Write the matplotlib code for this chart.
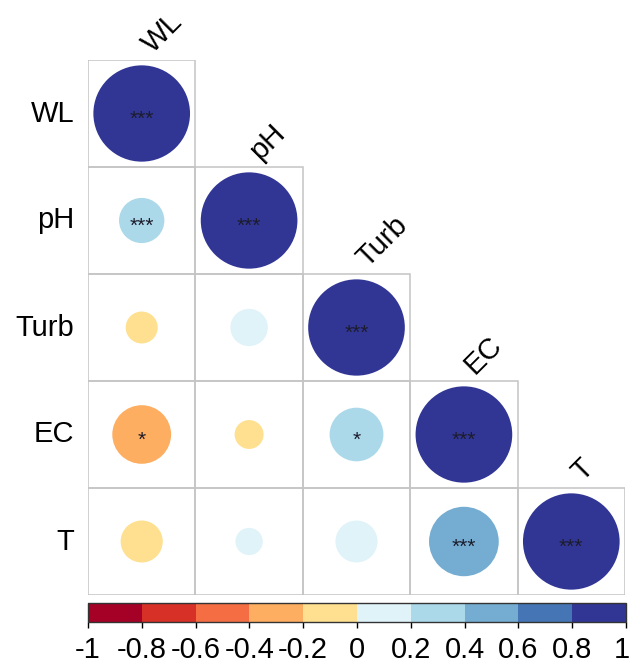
import numpy as np
import matplotlib
matplotlib.use("Agg")
import matplotlib.pyplot as plt
from matplotlib.patches import Circle, Rectangle
from matplotlib.colors import ListedColormap, BoundaryNorm
from matplotlib.transforms import ScaledTranslation
import matplotlib.colorbar as mcolorbar

plt.rcParams['font.family'] = ['Liberation Sans', 'DejaVu Sans']

variables = ["WL", "pH", "Turb", "EC", "T"]

# lower-triangle correlation coefficients (row i, columns 0..i)
corr_WL = [1.0]
corr_pH = [0.22, 1.0]
corr_Turb = [-0.11, 0.15, 1.0]
corr_EC = [-0.37, -0.09, 0.31, 1.0]
corr_T = [-0.19, 0.08, 0.19, 0.52, 1.0]

# significance markers, same layout
sig_WL = ["***"]
sig_pH = ["***", "***"]
sig_Turb = ["", "", "***"]
sig_EC = ["*", "", "*", "***"]
sig_T = ["", "", "", "***", "***"]

colorbar_ticks = [-1, -0.8, -0.6, -0.4, -0.2, 0, 0.2, 0.4, 0.6, 0.8, 1]
palette = ["#A50026", "#D73027", "#F46D43", "#FDAE61", "#FEE090",
           "#E0F3F8", "#ABD9E9", "#74ADD1", "#4575B4", "#313695"]

corr_rows = [corr_WL, corr_pH, corr_Turb, corr_EC, corr_T]
sig_rows = [sig_WL, sig_pH, sig_Turb, sig_EC, sig_T]

cmap = ListedColormap(palette)
norm = BoundaryNorm(np.linspace(-1, 1, 11), cmap.N)

W, H = 630, 666
fig = plt.figure(figsize=(W / 100, H / 100), dpi=100)

ax = fig.add_axes([88 / W, 1 - 595 / H, 537 / W, 535 / H])
n = len(variables)
ax.set_xlim(0, n)
ax.set_ylim(n, 0)
ax.axis("off")

grid_col = "#C4C4C4"
for i in range(n):
    for j in range(i + 1):
        ax.add_patch(Rectangle((j, i), 1, 1, fill=False, edgecolor=grid_col,
                               linewidth=1.1, zorder=1))
        r = corr_rows[i][j]
        rad = 0.45 * np.sqrt(abs(r))
        ax.add_patch(Circle((j + 0.5, i + 0.5), rad, facecolor=cmap(norm(r)),
                            edgecolor="none", zorder=2))
        s = sig_rows[i][j]
        if s:
            ax.text(j + 0.5, i + 0.55, s, ha="center", va="center",
                    fontsize=15, color="#1c1c2c", zorder=3)

# row labels
for i, name in enumerate(variables):
    ax.text(-0.13, i + 0.5, name, ha="right", va="center", fontsize=21,
            color="black", clip_on=False)

# diagonal column labels
for j, name in enumerate(variables):
    ax.text(j + 0.6, j - 0.06, name, ha="left", va="baseline", rotation=45,
            rotation_mode="anchor", fontsize=21, color="black", clip_on=False)

# colour bar
cax = fig.add_axes([88 / W, 1 - 622 / H, 538 / W, 19 / H])
cb = mcolorbar.ColorbarBase(cax, cmap=cmap, norm=norm, orientation="horizontal",
                            ticks=colorbar_ticks)
cb.outline.set_linewidth(1.0)
cb.outline.set_edgecolor("#333333")
cax.tick_params(axis="x", direction="out", length=4, width=1, labelsize=21, pad=6)
cax.set_xticklabels([f"{t:g}" for t in colorbar_ticks])

# keep the end label inside the canvas
last = cax.get_xticklabels()[-1]
last.set_transform(last.get_transform() + ScaledTranslation(-4 / 100, 0, fig.dpi_scale_trans))

fig.savefig("out.png", dpi=100)
